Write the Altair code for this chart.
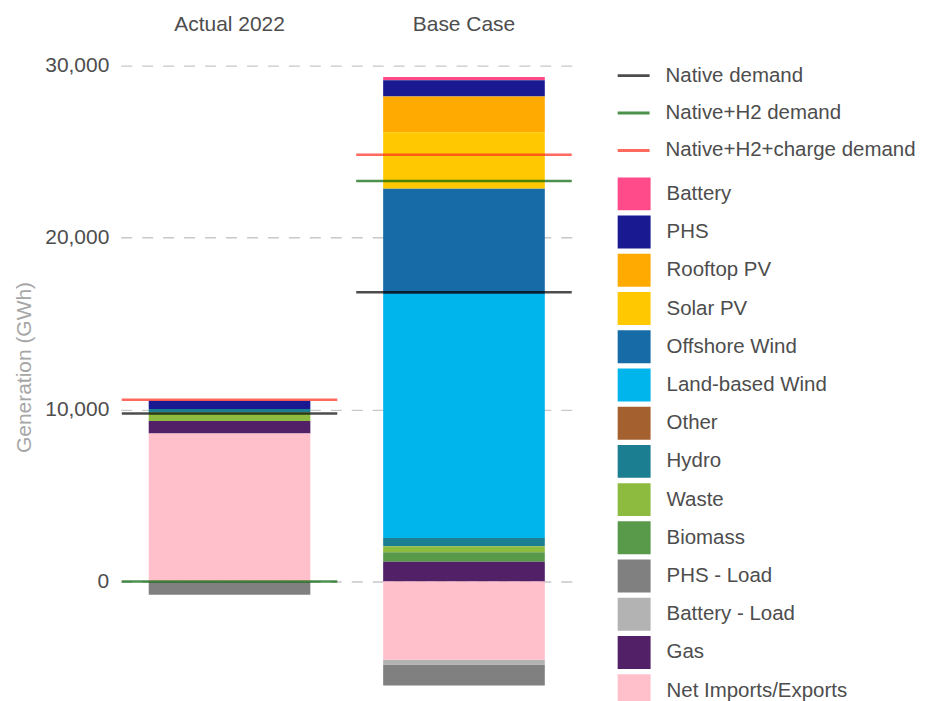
import altair as alt
import pandas as pd

scenarios = ["Actual 2022", "Base Case"]

sources = ["Battery", "PHS", "Rooftop PV", "Solar PV", "Offshore Wind",
           "Land-based Wind", "Other", "Hydro", "Waste", "Biomass",
           "PHS - Load", "Battery - Load", "Gas", "Net Imports/Exports"]
source_colors = ["#ff4b89", "#191991", "#ffaa00", "#ffc800", "#176ba6",
                 "#00b5ec", "#a5602f", "#1b7e91", "#8dbb3f", "#58994a",
                 "#808080", "#b3b3b3", "#512067", "#ffc0cb"]
actual_vals = [0, 482, 0, 0, 0, 0, 0, 197, 500, 0, -773, 0, 720, 8612]
base_vals = [192, 947, 2073, 3292, 6115, 14187, 0, 488, 348, 557, -1220, -273, 1144, -4547]

demand_types = ["Native demand", "Native+H2 demand", "Native+H2+charge demand"]
demand_colors = ["#000000", "#006400", "#ff2a1a"]
actual_demand = [9773, 0, 10569]
base_demand = [16823, 23286, 24814]

rows = []
for scen, vals in zip(scenarios, [actual_vals, base_vals]):
    for i, (s, v) in enumerate(zip(sources, vals)):
        rows.append({"scenario": scen, "source": s, "value": v, "ord": len(sources) - i})
bars_df = pd.DataFrame(rows)

drows = []
for scen, vals in zip(scenarios, [actual_demand, base_demand]):
    for d, v in zip(demand_types, vals):
        drows.append({"scenario": scen, "demand": d, "value": v})
dem_df = pd.DataFrame(drows)

FONT = "Liberation Sans"
FS = 21
LFS = 20.5

x_enc = alt.X("scenario:N", sort=scenarios,
              scale=alt.Scale(type="band", paddingInner=0.072, paddingOuter=0),
              axis=alt.Axis(orient="top", title=None, labelAngle=0, domain=False,
                            ticks=False, labelFontSize=FS, labelColor="#4d4d4d",
                            labelFont=FONT, labelPadding=12, bandPosition=0.5,
                            labelAlign="center"))
y_scale = alt.Scale(domain=[-6150, 31100], nice=False, zero=False)

color_enc = alt.Color("demand:N", sort=demand_types,
                      scale=alt.Scale(domain=demand_types, range=demand_colors),
                      legend=alt.Legend(title=None, orient="none",
                                        legendX=498, legendY=13,
                                        symbolType="M-1,-0.09H1V0.09H-1Z",
                                        symbolSize=1024, symbolStrokeWidth=0,
                                        labelFontSize=LFS, labelColor="#4d4d4d",
                                        labelFont=FONT, labelOffset=16,
                                        rowPadding=10.5, labelLimit=400))

ghost = alt.Chart(dem_df).mark_tick(size=216, thickness=2.5, opacity=0).encode(
    x=x_enc,
    y=alt.Y("value:Q", scale=y_scale),
    color=color_enc,
)

bars = alt.Chart(bars_df).mark_bar(width=162).encode(
    x=x_enc,
    y=alt.Y("value:Q", stack="zero", scale=y_scale,
            axis=alt.Axis(title="Generation (GWh)", values=[0, 10000, 20000, 30000],
                          format=",.0f", domain=False, ticks=False, grid=True,
                          gridDash=[11, 10], gridColor="#c8c8c8", gridWidth=1.3,
                          labelFontSize=FS, labelColor="#4d4d4d", labelFont=FONT,
                          labelPadding=12, titleFontSize=FS, titleColor="#a6a6a6",
                          titleFont=FONT, titleFontWeight="normal", titlePadding=10)),
    fill=alt.Fill("source:N", sort=sources,
                  scale=alt.Scale(domain=sources, range=source_colors),
                  legend=alt.Legend(title=None, orient="none",
                                    legendX=498, legendY=131,
                                    symbolType="square", symbolSize=1089,
                                    symbolStrokeWidth=0, labelFontSize=LFS,
                                    labelColor="#4d4d4d", labelFont=FONT,
                                    labelOffset=16, rowPadding=5.3,
                                    labelLimit=400)),
    order=alt.Order("ord:Q"),
)

lines = alt.Chart(dem_df).mark_tick(size=216, thickness=2.5).encode(
    x=x_enc,
    y=alt.Y("value:Q", scale=y_scale),
    color=color_enc,
)

chart = alt.layer(ghost, bars, lines).properties(
    width=453, height=642
).configure(background="white").configure_view(strokeWidth=0, stroke="transparent")

chart.save("out.html", embed_options={"renderer": "svg", "actions": False})
